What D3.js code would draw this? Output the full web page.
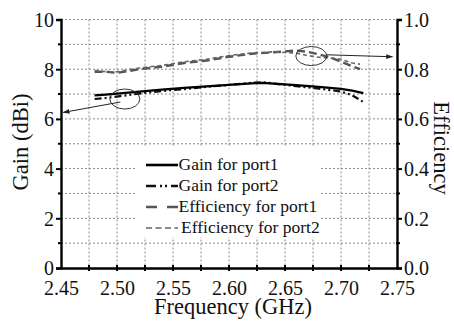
<!DOCTYPE html>
<html lang="en">
<head>
<meta charset="utf-8">
<title>Gain and efficiency</title>
<script src="https://cdn.jsdelivr.net/npm/d3@7"></script>
<style>
  body { margin: 0; background: #fff; }
</style>
</head>
<body>
<svg id="chart" width="454" height="322"></svg>
<script>
// data
var freq = [2.48, 2.49, 2.50, 2.52, 2.54, 2.56, 2.58, 2.60, 2.62, 2.63, 2.64, 2.66, 2.68, 2.70, 2.71, 2.72];
var gainPort1 = [6.95, 6.98, 7.02, 7.10, 7.18, 7.25, 7.31, 7.37, 7.43, 7.45, 7.42, 7.36, 7.29, 7.21, 7.14, 7.04];
var gainPort2 = [6.80, 6.84, 6.90, 7.02, 7.12, 7.20, 7.29, 7.37, 7.45, 7.48, 7.42, 7.32, 7.22, 7.10, 6.95, 6.68];
var effFreq = [2.48, 2.49, 2.50, 2.52, 2.54, 2.56, 2.58, 2.60, 2.62, 2.64, 2.66, 2.67, 2.68, 2.69, 2.70, 2.71, 2.717];
var effPort1 = [0.79, 0.79, 0.785, 0.80, 0.81, 0.825, 0.835, 0.85, 0.862, 0.868, 0.875, 0.87, 0.86, 0.848, 0.83, 0.812, 0.80];
var effPort2 = [0.795, 0.79, 0.79, 0.805, 0.815, 0.83, 0.84, 0.855, 0.865, 0.87, 0.865, 0.855, 0.848, 0.845, 0.84, 0.825, 0.82];

var xTicks = [2.45, 2.50, 2.55, 2.60, 2.65, 2.70, 2.75];
var gainTicks = [0, 2, 4, 6, 8, 10];
var effTicks = [0.0, 0.2, 0.4, 0.6, 0.8, 1.0];
var legendLabels = ["Gain for port1", "Gain for port2", "Efficiency for port1", "Efficiency for port2"];

var serif = "'Liberation Serif'";
var svg = d3.select("#chart");
var pLeft = 61, pRight = 397, pTop = 19.5, pBottom = 268;

var x = d3.scaleLinear().domain([2.45, 2.75]).range([pLeft, pRight]);
var yG = d3.scaleLinear().domain([0, 10]).range([pBottom, pTop]);
var yE = d3.scaleLinear().domain([0, 1]).range([pBottom, pTop]);

// grid
var grid = svg.append("g").attr("stroke", "#8a8a8a").attr("stroke-width", 1).attr("stroke-dasharray", "2,2");
d3.range(2.475, 2.75, 0.025).forEach(function(f) {
  grid.append("line").attr("x1", x(f)).attr("x2", x(f)).attr("y1", yG(10)).attr("y2", yG(0));
});
d3.range(1, 10.5, 1).forEach(function(v) {
  grid.append("line").attr("x1", pLeft).attr("x2", pRight).attr("y1", yG(v)).attr("y2", yG(v));
});

// legend background hides the grid
svg.append("rect").attr("x", 137).attr("y", 147).attr("width", 182).attr("height", 90).attr("fill", "#fff");

// curves
var lineG = function(ys) {
  return d3.line().x(function(d, i) { return x(freq[i]); }).y(function(d) { return yG(d); })(ys);
};
var lineE = function(ys) {
  return d3.line().x(function(d, i) { return x(effFreq[i]); }).y(function(d) { return yE(d); })(ys);
};

var styles = [
  { color: "#000", width: 2.2, dash: null },
  { color: "#111", width: 2.2, dash: "7,3,2,3,2,3" },
  { color: "#555", width: 2.4, dash: "8,4" },
  { color: "#666", width: 1.6, dash: "4,3" }
];

svg.append("path").attr("d", lineE(effPort1)).attr("fill", "none")
  .attr("stroke", styles[2].color).attr("stroke-width", styles[2].width).attr("stroke-dasharray", styles[2].dash);
svg.append("path").attr("d", lineE(effPort2)).attr("fill", "none")
  .attr("stroke", styles[3].color).attr("stroke-width", styles[3].width).attr("stroke-dasharray", styles[3].dash);
svg.append("path").attr("d", lineG(gainPort2)).attr("fill", "none")
  .attr("stroke", styles[1].color).attr("stroke-width", styles[1].width).attr("stroke-dasharray", styles[1].dash);
svg.append("path").attr("d", lineG(gainPort1)).attr("fill", "none")
  .attr("stroke", styles[0].color).attr("stroke-width", styles[0].width);

// ellipses and arrows
svg.append("defs").append("marker").attr("id", "arr").attr("viewBox", "0 0 10 10")
  .attr("refX", 9).attr("refY", 5).attr("markerWidth", 7).attr("markerHeight", 7).attr("orient", "auto")
  .attr("markerUnits", "userSpaceOnUse")
  .append("path").attr("d", "M0,1.5 L10,5 L0,8.5 Z").attr("fill", "#222");

svg.append("ellipse").attr("cx", x(2.507)).attr("cy", yG(6.8)).attr("rx", 15).attr("ry", 10)
  .attr("fill", "none").attr("stroke", "#333").attr("stroke-width", 1);
svg.append("line").attr("x1", x(2.503)).attr("y1", yG(6.68)).attr("x2", x(2.452)).attr("y2", yG(6.26))
  .attr("stroke", "#222").attr("stroke-width", 1).attr("marker-end", "url(#arr)");

svg.append("ellipse").attr("cx", x(2.6735)).attr("cy", yE(0.853)).attr("rx", 15.5).attr("ry", 9.5)
  .attr("fill", "none").attr("stroke", "#333").attr("stroke-width", 1);
svg.append("line").attr("x1", x(2.6875)).attr("y1", yE(0.858)).attr("x2", x(2.746)).attr("y2", yE(0.85))
  .attr("stroke", "#222").attr("stroke-width", 1).attr("marker-end", "url(#arr)");

// axes
var xAxis = d3.axisBottom(x).tickValues(xTicks).tickFormat(d3.format(".2f")).tickSize(0).tickPadding(14);
var gx = svg.append("g").attr("transform", "translate(0," + pBottom + ")").call(xAxis);
var yAxisL = d3.axisLeft(yG).tickValues(gainTicks).tickSize(5).tickPadding(2);
var gl = svg.append("g").attr("transform", "translate(" + pLeft + ",0)").call(yAxisL);
var yAxisR = d3.axisRight(yE).tickValues(effTicks).tickFormat(d3.format(".1f")).tickSize(5).tickPadding(2);
var gr = svg.append("g").attr("transform", "translate(" + pRight + ",0)").call(yAxisR);

[gx, gl, gr].forEach(function(g) {
  g.select(".domain").attr("stroke", "#000").attr("stroke-width", 2.4);
  g.selectAll(".tick line").attr("stroke", "#000").attr("stroke-width", 2);
  g.selectAll("text").style("font-family", serif).style("font-size", "20px").attr("fill", "#111");
});
gx.selectAll("text").attr("dy", "0.64em");
gl.selectAll("text").attr("dy", "0.34em");
gr.selectAll("text").attr("dy", "0.34em");

// small ticks
var ticks = svg.append("g").attr("stroke", "#000").attr("stroke-width", 2);
d3.range(2.475, 2.75, 0.025).forEach(function(f) {
  ticks.append("line").attr("x1", x(f)).attr("x2", x(f)).attr("y1", pBottom - 3).attr("y2", pBottom + 3);
});
d3.range(1, 10, 2).forEach(function(v) {
  ticks.append("line").attr("x1", pLeft - 3).attr("x2", pLeft + 1).attr("y1", yG(v)).attr("y2", yG(v));
  ticks.append("line").attr("x1", pRight - 1).attr("x2", pRight + 3).attr("y1", yG(v)).attr("y2", yG(v));
});

// axis titles
svg.append("text").attr("x", 233).attr("y", 314).attr("text-anchor", "middle")
  .style("font-family", serif).style("font-size", "22.5px").attr("fill", "#111").text("Frequency (GHz)");
svg.append("text").attr("transform", "translate(28,142) rotate(-90)").attr("text-anchor", "middle")
  .style("font-family", serif).style("font-size", "22.5px").attr("fill", "#111").text("Gain (dBi)");
svg.append("text").attr("transform", "translate(434,148) rotate(90)").attr("text-anchor", "middle")
  .style("font-family", serif).style("font-size", "22.5px").attr("fill", "#111").text("Efficiency");

// legend
var legend = svg.append("g");
var legendDash = [null, "10,4,2,3,2,4", "11,10", "6,3.5"];
legendLabels.forEach(function(lab, i) {
  var ly = 165 + i * 21;
  var s = styles[i];
  var ln = legend.append("line").attr("x1", 146).attr("x2", 178).attr("y1", ly).attr("y2", ly)
    .attr("stroke", s.color).attr("stroke-width", i === 3 ? 1.6 : 2.6);
  if (legendDash[i]) ln.attr("stroke-dasharray", legendDash[i]);
  legend.append("text").attr("x", i === 3 ? 181 : 178.5).attr("y", ly + 4.5)
    .style("font-family", serif).style("font-size", "17.5px").attr("fill", "#111").text(lab);
});
</script>
</body>
</html>
